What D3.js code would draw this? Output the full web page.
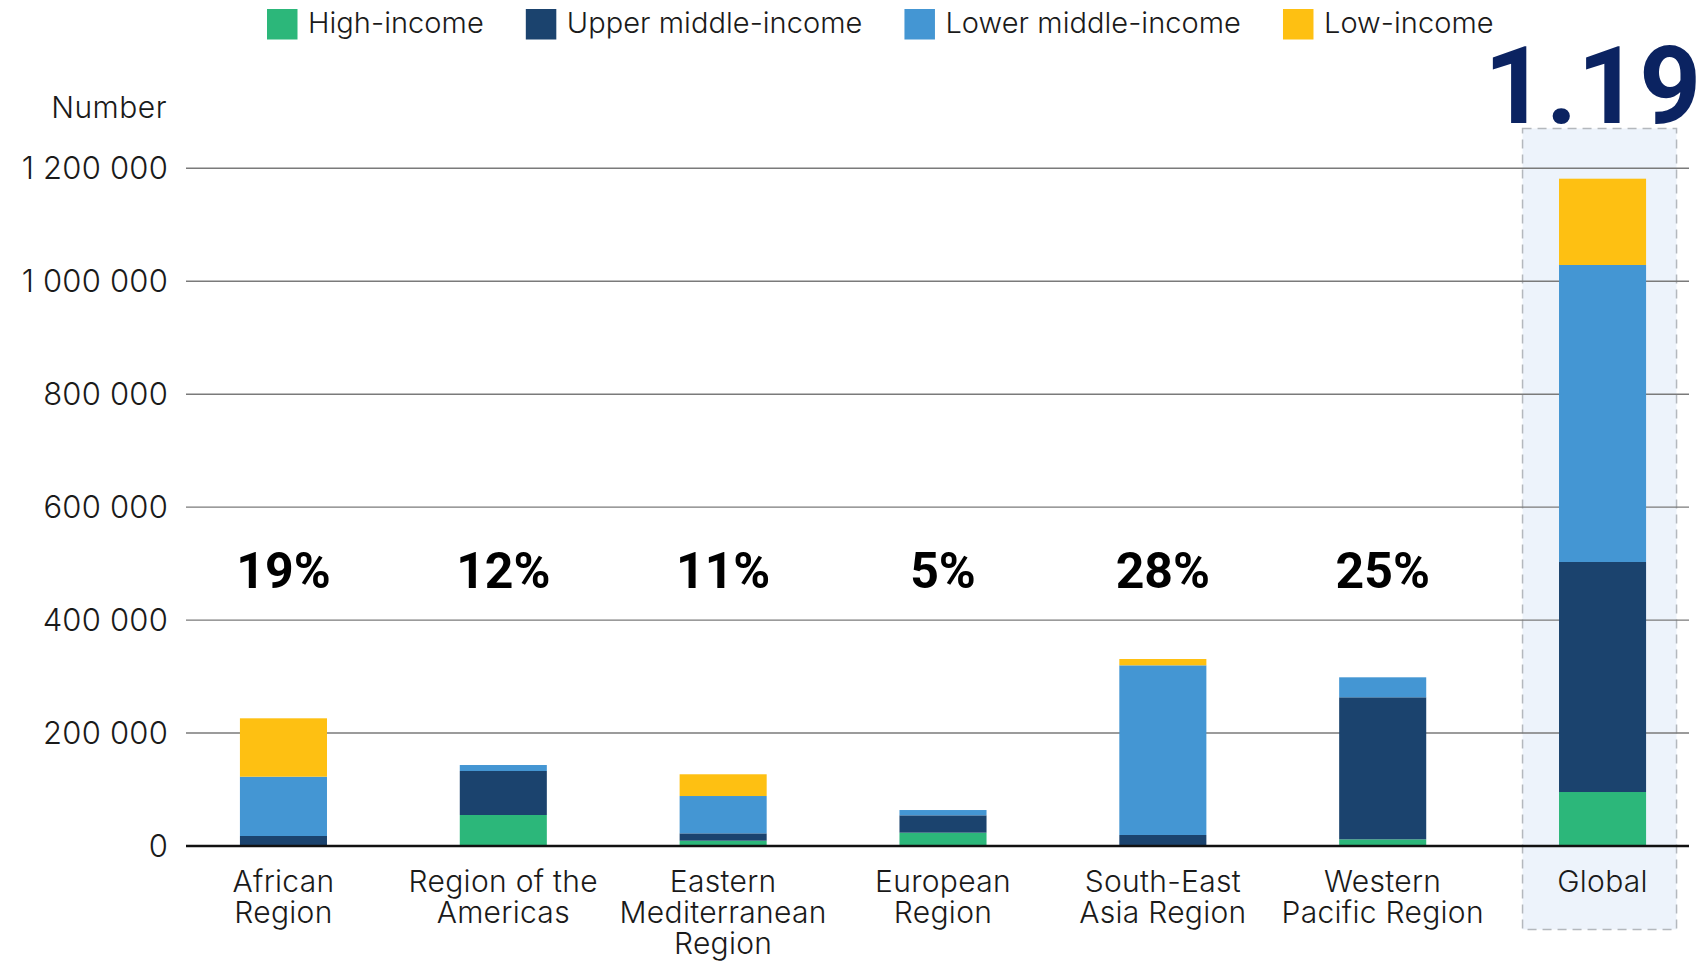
<!DOCTYPE html>
<html>
<head>
<meta charset="utf-8">
<script src="https://cdn.jsdelivr.net/npm/d3@7"></script>
<style>
  html, body { margin: 0; padding: 0; background: #ffffff; }
  svg { display: block; }
</style>
</head>
<body>
<svg id="chart" width="1701" height="963"></svg>
<script>
// ---------- data ----------
const categories = ["African Region", "Region of the Americas", "Eastern Mediterranean Region",
  "European Region", "South-East Asia Region", "Western Pacific Region", "Global"];
const categoryLines = [["African", "Region"], ["Region of the", "Americas"], ["Eastern", "Mediterranean", "Region"],
  ["European", "Region"], ["South-East", "Asia Region"], ["Western", "Pacific Region"], ["Global"]];
const seriesNames = ["High-income", "Upper middle-income", "Lower middle-income", "Low-income"];
const highIncome = [0, 54900, 9400, 23600, 0, 11800, 95600];
const upperMiddleIncome = [17700, 77900, 13000, 30700, 19500, 251500, 407300];
const lowerMiddleIncome = [105000, 10600, 66100, 9400, 300400, 35400, 525900];
const lowIncome = [103400, 0, 38500, 0, 11200, 0, 152800];
const shareLabels = ["19%", "12%", "11%", "5%", "28%", "25%", ""];
const yTicks = [0, 200000, 400000, 600000, 800000, 1000000, 1200000];
const highlightCategory = "Global";
const highlightValue = "1.19";
const yAxisTitle = "Number";

// ---------- styles ----------
const colors = ["#2cb77a", "#1b436e", "#4496d3", "#fec012"];
const lightFont = "Inter, 'Noto Sans', sans-serif";
const boldFont = "Roboto, 'Liberation Sans', sans-serif";

const svg = d3.select("#chart");

const x = d3.scaleBand()
  .domain(categories)
  .range([130, 1756])
  .paddingInner(0.604)
  .paddingOuter(0.5);

const y = d3.scaleLinear().domain([0, 1200000]).range([846, 168.3]);

const rows = categories.map((c, i) => ({
  cat: c,
  "High-income": highIncome[i],
  "Upper middle-income": upperMiddleIncome[i],
  "Lower middle-income": lowerMiddleIncome[i],
  "Low-income": lowIncome[i]
}));
const stacked = d3.stack().keys(seriesNames)(rows);

// highlight box behind Global
const hx = x(highlightCategory) + x.bandwidth() / 2;
svg.append("rect")
  .attr("x", hx - 80).attr("y", 128.5)
  .attr("width", 154).attr("height", 801)
  .attr("fill", "#edf3fb")
  .attr("stroke", "#b4b8bd").attr("stroke-width", 1.5)
  .attr("stroke-dasharray", "9,6");

// gridlines + tick labels
const axisLeft = 186, axisRight = 1689;
svg.append("g").selectAll("line")
  .data(yTicks.filter(d => d > 0))
  .join("line")
  .attr("x1", axisLeft).attr("x2", axisRight)
  .attr("y1", d => y(d)).attr("y2", d => y(d))
  .attr("stroke", "#7a7a7a").attr("stroke-width", 1.4);

const fmtTick = v => d3.format(",")(v).split(",").join(" ");
svg.append("g").selectAll("text")
  .data(yTicks)
  .join("text")
  .attr("x", 168).attr("y", d => y(d) + 11)
  .attr("text-anchor", "end")
  .attr("font-family", lightFont).attr("font-weight", 300)
  .attr("font-size", 31).attr("letter-spacing", 0.2).attr("fill", "#1a1a1a")
  .text(d => fmtTick(d));

svg.append("text")
  .attr("x", 167).attr("y", 117.5)
  .attr("text-anchor", "end")
  .attr("font-family", lightFont).attr("font-weight", 300)
  .attr("font-size", 30).attr("letter-spacing", 0.5).attr("fill", "#1a1a1a")
  .text(yAxisTitle);

// bars
svg.append("g").selectAll("g")
  .data(stacked)
  .join("g")
  .attr("fill", (d, i) => colors[i])
  .selectAll("rect")
  .data(d => d)
  .join("rect")
  .attr("x", d => x(d.data.cat))
  .attr("width", x.bandwidth())
  .attr("y", d => y(d[1]))
  .attr("height", d => Math.max(0, y(d[0]) - y(d[1])));

// baseline
svg.append("line")
  .attr("x1", axisLeft).attr("x2", axisRight)
  .attr("y1", y(0)).attr("y2", y(0))
  .attr("stroke", "#111").attr("stroke-width", 2.6);

// x labels
const xl = svg.append("g").selectAll("text")
  .data(categories)
  .join("text")
  .attr("x", d => x(d) + x.bandwidth() / 2)
  .attr("y", 892)
  .attr("text-anchor", "middle")
  .attr("font-family", lightFont).attr("font-weight", 300)
  .attr("font-size", 30).attr("letter-spacing", 0.3).attr("fill", "#1a1a1a");
xl.selectAll("tspan")
  .data((d, i) => categoryLines[i].map(t => ({ t, c: d })))
  .join("tspan")
  .attr("x", d => x(d.c) + x.bandwidth() / 2)
  .attr("dy", (d, i) => i === 0 ? 0 : 30.8)
  .text(d => d.t);

// share labels
svg.append("g").selectAll("text")
  .data(categories)
  .join("text")
  .attr("x", d => x(d) + x.bandwidth() / 2)
  .attr("y", 588)
  .attr("text-anchor", "middle")
  .attr("font-family", boldFont).attr("font-weight", 700)
  .attr("font-size", 50).attr("fill", "#000")
  .text((d, i) => shareLabels[i]);

// big highlight value
svg.append("text")
  .attr("x", 1484).attr("y", 123)
  .attr("font-family", boldFont).attr("font-weight", 700)
  .attr("font-size", 108).attr("fill", "#0b2361")
  .text(highlightValue);

// legend
const lg = svg.append("g");
let lx = 267;
seriesNames.forEach((name, i) => {
  lg.append("rect").attr("x", lx).attr("y", 9).attr("width", 30.5).attr("height", 30.5).attr("fill", colors[i]);
  const t = lg.append("text")
    .attr("x", lx + 41).attr("y", 33)
    .attr("font-family", lightFont).attr("font-weight", 300)
    .attr("font-size", 29).attr("letter-spacing", 0.05).attr("fill", "#1a1a1a")
    .text(name);
  lx += 41 + t.node().getComputedTextLength() + 42;
});
</script>
</body>
</html>
